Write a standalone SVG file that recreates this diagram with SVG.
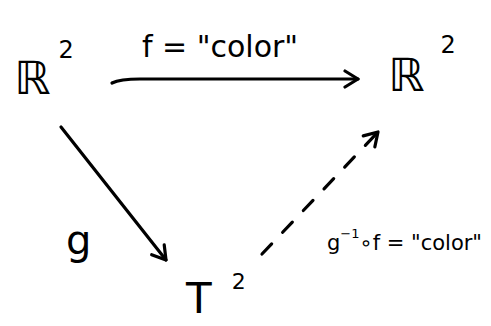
<svg xmlns="http://www.w3.org/2000/svg" width="491" height="326" viewBox="0 0 491 326">
<style>
.t{font-family:"DejaVu Sans","Liberation Sans",sans-serif;fill:#000}
.c{fill:none;stroke:#000;stroke-width:3.2;stroke-linecap:round;stroke-linejoin:round}
.d{stroke-dasharray:14 16}
</style>
<defs>
<marker id="ah" viewBox="0 0 20 20" refX="17" refY="10" markerWidth="20" markerHeight="20" markerUnits="userSpaceOnUse" orient="auto">
<path d="M4 2 L17 10 L4 18" fill="none" stroke="#000" stroke-width="3.2" stroke-linecap="round" stroke-linejoin="round"/>
</marker>
</defs>
<rect width="491" height="326" fill="#fff"/>
<g id="connectors">
<path class="c" d="M112 83 Q120 79 140 79 L358 79" marker-end="url(#ah)"/>
<path class="c" d="M61 127 L166 260" marker-end="url(#ah)"/>
<path class="c d" d="M262 254 L378 132" marker-end="url(#ah)"/>
</g>
<g id="node-r2-left">
<text class="t" x="14" y="94" font-size="46">ℝ<tspan font-size="24" dy="-36" dx="8">2</tspan></text>
</g>
<g id="node-r2-right">
<text class="t" x="388" y="91" font-size="46">ℝ<tspan font-size="24" dy="-38" dx="16">2</tspan></text>
</g>
<g id="node-t2">
<text class="t" x="186" y="313" font-size="42">T<tspan font-size="22" dy="-24" dx="20">2</tspan></text>
</g>
<g id="label-f">
<text class="t" x="220" y="57" font-size="30" text-anchor="middle">f = "color"</text>
</g>
<g id="label-g">
<text class="t" x="66" y="254" font-size="40">g</text>
</g>
<g id="label-gf">
<text class="t" x="327" y="250" font-size="21">g<tspan font-size="13" dy="-12">−1</tspan><tspan dy="12">∘f = "color"</tspan></text>
</g>
</svg>
